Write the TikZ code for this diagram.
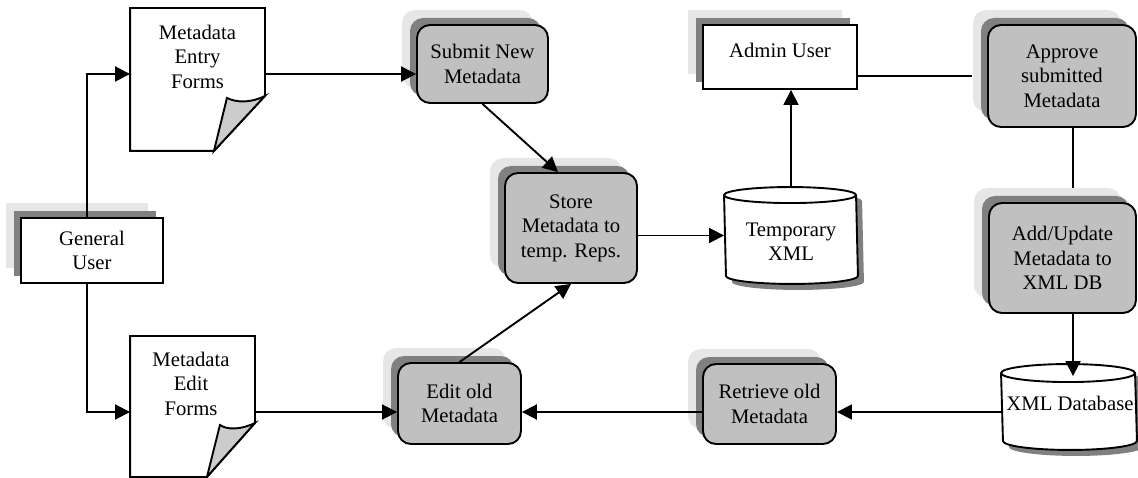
\documentclass[tikz,border=0pt]{standalone}
\usepackage{fontspec}
\setmainfont{Liberation Serif}
\usetikzlibrary{arrows.meta,shadows}

\definecolor{boxgray}{HTML}{C0C0C0}
\definecolor{curlgray}{HTML}{CCCCCC}
\definecolor{shadedark}{HTML}{808080}
\definecolor{shadelight}{HTML}{E6E6E6}

\tikzset{
  every node/.style={font=\fontsize{20.7}{24.5}\selectfont, align=center},
  arr/.style={-{Triangle[length=15pt,width=15pt]}},
  stack/.style={general shadow={fill=shadelight, shadow xshift=-15pt, shadow yshift=15pt},
                general shadow={fill=shadedark, shadow xshift=-7pt, shadow yshift=7pt}},
  userbox/.style={draw, fill=white, stack},
  taskbox/.style={draw, fill=boxgray, rounded corners=13pt, stack},
  pagebox/.style={inner sep=0pt},
  drumbox/.style={inner sep=0pt}
}

\begin{document}
\begin{tikzpicture}[x=1pt, y=1pt, line width=1.9pt]
\useasboundingbox (0,0) rectangle (1138,477);

% users
\node[userbox, minimum width=142pt, minimum height=65pt] (guser) at (92,226.5) {General\\User};
\node[userbox, minimum width=154pt, minimum height=64pt, text depth=14pt] (admin) at (780,420) {Admin User};

% forms (page with turned corner)
\node[pagebox, minimum width=133pt, minimum height=141pt] (entry) at (197.5,397.5) {};
\node[pagebox, minimum width=123pt, minimum height=139pt] (editf) at (192.5,70.5) {};
\foreach \p/\dx/\dy in {entry/51pt/55pt, editf/48pt/54pt} {
  \draw[fill=white] (\p.north west) -- (\p.north east) -- ([yshift=\dy]\p.south east) -- ([xshift=-\dx]\p.south east) -- (\p.south west) -- cycle;
  \filldraw[fill=curlgray] ([yshift=\dy]\p.south east) .. controls ([xshift=-14pt,yshift=\dy-7pt]\p.south east) and ([xshift=-28pt,yshift=\dy-7pt]\p.south east) .. ([xshift=-\dx+13pt,yshift=\dy-2pt]\p.south east) -- ([xshift=-\dx]\p.south east) -- cycle;
}
\node (entrytext) at (197.5,420.5) {Metadata\\Entry\\Forms};
\node (editftext) at (191,93.5) {Metadata\\Edit\\Forms};

% processes
\node[taskbox, minimum width=131pt, minimum height=78pt] (submit) at (482.5,413) {Submit New\\Metadata};
\node[taskbox, minimum width=132pt, minimum height=110pt] (store) at (571,249) {Store\\Metadata to\\temp. Reps.};
\node[taskbox, minimum width=123pt, minimum height=81pt] (editold) at (459.5,73.5) {Edit old\\Metadata};
\node[taskbox, minimum width=133pt, minimum height=80pt] (retrieve) at (769.5,73) {Retrieve old\\Metadata};
\node[taskbox, minimum width=148pt, minimum height=102pt] (approve) at (1062,401) {Approve\\submitted\\Metadata};
\node[taskbox, minimum width=147pt, minimum height=110pt] (addupd) at (1062.5,219) {Add/Update\\Metadata to\\XML DB};

% stores (cylinders)
\node[drumbox, minimum width=132pt, minimum height=95pt] (tmpxml) at (791,241.5) {};
\node[drumbox, minimum width=134pt, minimum height=84pt] (xmldb) at (1069,70) {};
\foreach \cy/\rx/\ry in {tmpxml/66pt/8pt, xmldb/67pt/9pt} {
  \filldraw[fill=white, general shadow={fill=shadedark, shadow xshift=6pt, shadow yshift=-6pt}]
    ([yshift=-\ry]\cy.north west) arc[start angle=180, end angle=0, x radius=\rx, y radius=\ry]
    -- ([yshift=\ry]\cy.south east) arc[start angle=0, end angle=-180, x radius=\rx, y radius=\ry] -- cycle;
  \draw ([yshift=-\ry]\cy.north west) arc[start angle=180, end angle=360, x radius=\rx, y radius=\ry];
}
\node (tmpxmltext) at (791,235.5) {Temporary\\XML};
\node (xmldbtext) at (1070,74) {XML Database};

% connectors
\coordinate (gtop) at ([xshift=-5pt]guser.north);
\coordinate (gbot) at ([xshift=-5pt]guser.south);
\coordinate (entryin) at ([yshift=5.5pt]entry.west);
\coordinate (editin) at ([yshift=-5.5pt]editf.west);
\coordinate (dbout) at ([yshift=-5pt]xmldb.west);
\coordinate (dbin) at ([xshift=4pt,yshift=-12pt]xmldb.north);
\draw[arr] (gtop) |- (entryin);
\draw[arr] (gbot) |- (editin);
\draw[arr] (entryin -| entry.east) -- (entryin -| submit.west);
\draw[arr] (editin -| editf.east) -- (editin -| editold.west);
\draw[arr] (submit.south) -- ([xshift=-13pt]store.north);
\draw[arr] (editold.north) -- (store.south);
\draw[arr] (tmpxml.west -| store.east) -- (tmpxml.west);
\draw[arr] (tmpxml.north) -- (tmpxml.north |- admin.south);
\draw (admin.east |- approve.west) -- ([xshift=-15pt]approve.west);
\draw ([xshift=11pt]approve.south) -- ++(0,-60);
\draw[arr] (addupd.south -| dbin) -- (dbin);
\draw[arr] (dbout) -- (dbout -| retrieve.east);
\draw[arr] (dbout -| retrieve.west) -- (dbout -| editold.east);
\end{tikzpicture}
\end{document}
